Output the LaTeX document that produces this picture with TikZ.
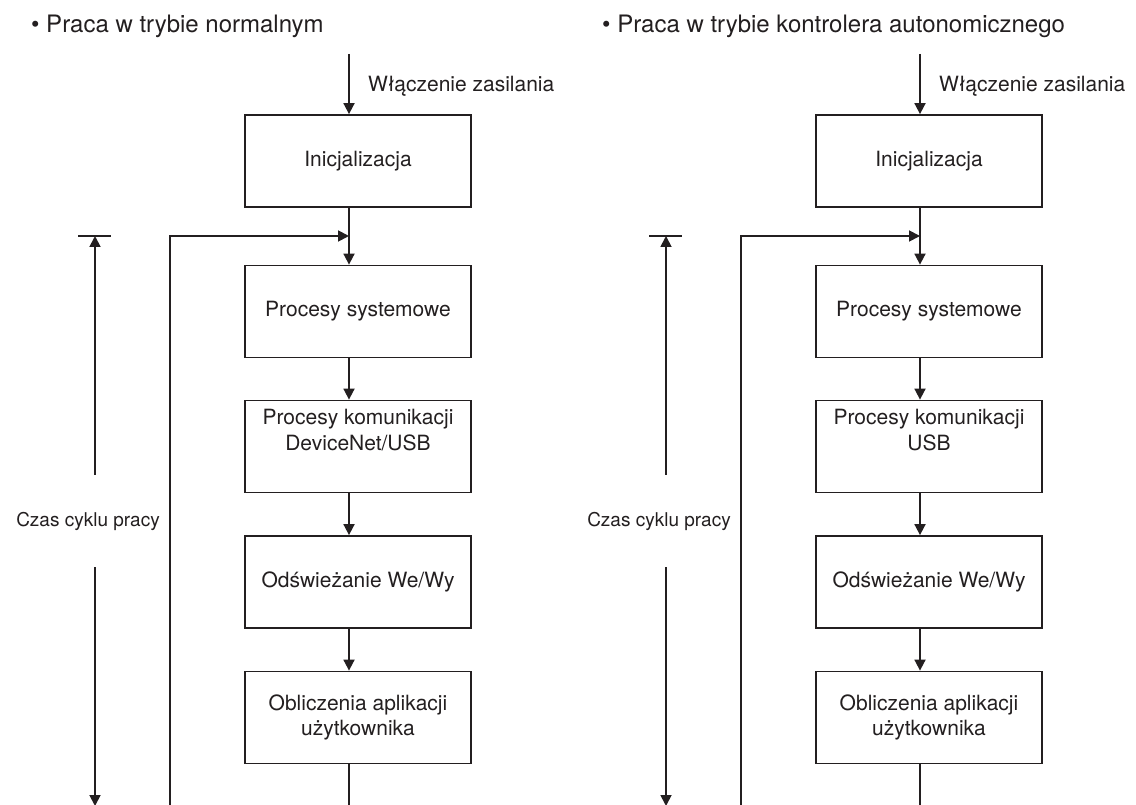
\documentclass[tikz,border=0pt]{standalone}
\usepackage{fontspec}
\setmainfont{TeX Gyre Heros}
\usetikzlibrary{arrows.meta}
\definecolor{ink}{RGB}{35,31,32}

% One flowchart column: #1 name prefix, #2 horizontal offset,
% #3 heading, #4 second line of the communication box
\newcommand\drawpanel[4]{%
\begin{scope}[xshift=#2]
  \node[heading, anchor=base west] (#1title) at (31,33) {\textbullet\ #3};
  \node[box] (#1b1) at (358,161)   {Inicjalizacja};
  \node[box] (#1b2) at (358,311.5) {Procesy systemowe};
  \node[box] (#1b3) at (358,446.5) {Procesy komunikacji\\#4\\\strut};
  \node[box] (#1b4) at (358,582)   {Odświeżanie We/Wy};
  \node[box] (#1b5) at (358,717.5) {Obliczenia aplikacji\\użytkownika};
  \coordinate (#1pw) at (349,54);
  \node[note, anchor=base west] (#1pwl) at (368,92) {Włączenie zasilania};
  \coordinate (#1j)   at (349,236);
  \coordinate (#1lb)  at (170,806);
  \coordinate (#1end) at (349,806);
  \node[cyc] (#1cyc) at (88,521) {Czas cyklu pracy};
  \coordinate (#1ct) at (95,236);
  \coordinate (#1cb) at (95,806);
  % main sequence
  \draw[flow,tip] (#1pw) -- (#1b1.north -| #1pw);
  \draw[flow,tip] (#1b1.south -| #1pw) -- (#1b2.north -| #1pw);
  \draw[flow,tip] (#1b2.south -| #1pw) -- (#1b3.north -| #1pw);
  \draw[flow,tip] (#1b3.south -| #1pw) -- (#1b4.north -| #1pw);
  \draw[flow,tip] (#1b4.south -| #1pw) -- (#1b5.north -| #1pw);
  \draw[flow] (#1b5.south -| #1pw) -- (#1end);
  % return loop
  \draw[flow,tip] (#1lb) |- (#1j);
  % cycle time dimension
  \draw[flow,tip] (#1cyc.north -| #1ct) -- (#1ct);
  \draw[flow,tip] (#1cyc.south -| #1ct) -- (#1cb);
  \draw[flow] ([xshift=-17pt]#1ct) -- ([xshift=16pt]#1ct);
\end{scope}}

\begin{document}
\begin{tikzpicture}[x=1pt,y=-1pt,
  flow/.style={draw=ink, line width=1.8pt},
  tip/.style={-{Triangle[length=11pt,width=11pt]}},
  box/.style={draw=ink, line width=1.8pt, minimum width=226pt,
    minimum height=92pt, inner sep=0pt, align=center, text=ink,
    font=\fontsize{21}{25.5}\selectfont},
  heading/.style={inner sep=0pt, text=ink, font=\fontsize{24}{28}\selectfont},
  note/.style={inner sep=0pt, text=ink, font=\fontsize{21}{25}\selectfont},
  cyc/.style={inner sep=0pt, minimum height=92pt, text=ink,
    font=\fontsize{19}{23}\selectfont}]
  \fill[white] (0,0) rectangle (1136,805);
  \useasboundingbox (0,0) rectangle (1136,805);
  \drawpanel{L}{0pt}{Praca w trybie normalnym}{DeviceNet/USB}
  \drawpanel{R}{571pt}{Praca w trybie kontrolera autonomicznego}{USB}
\end{tikzpicture}
\end{document}
